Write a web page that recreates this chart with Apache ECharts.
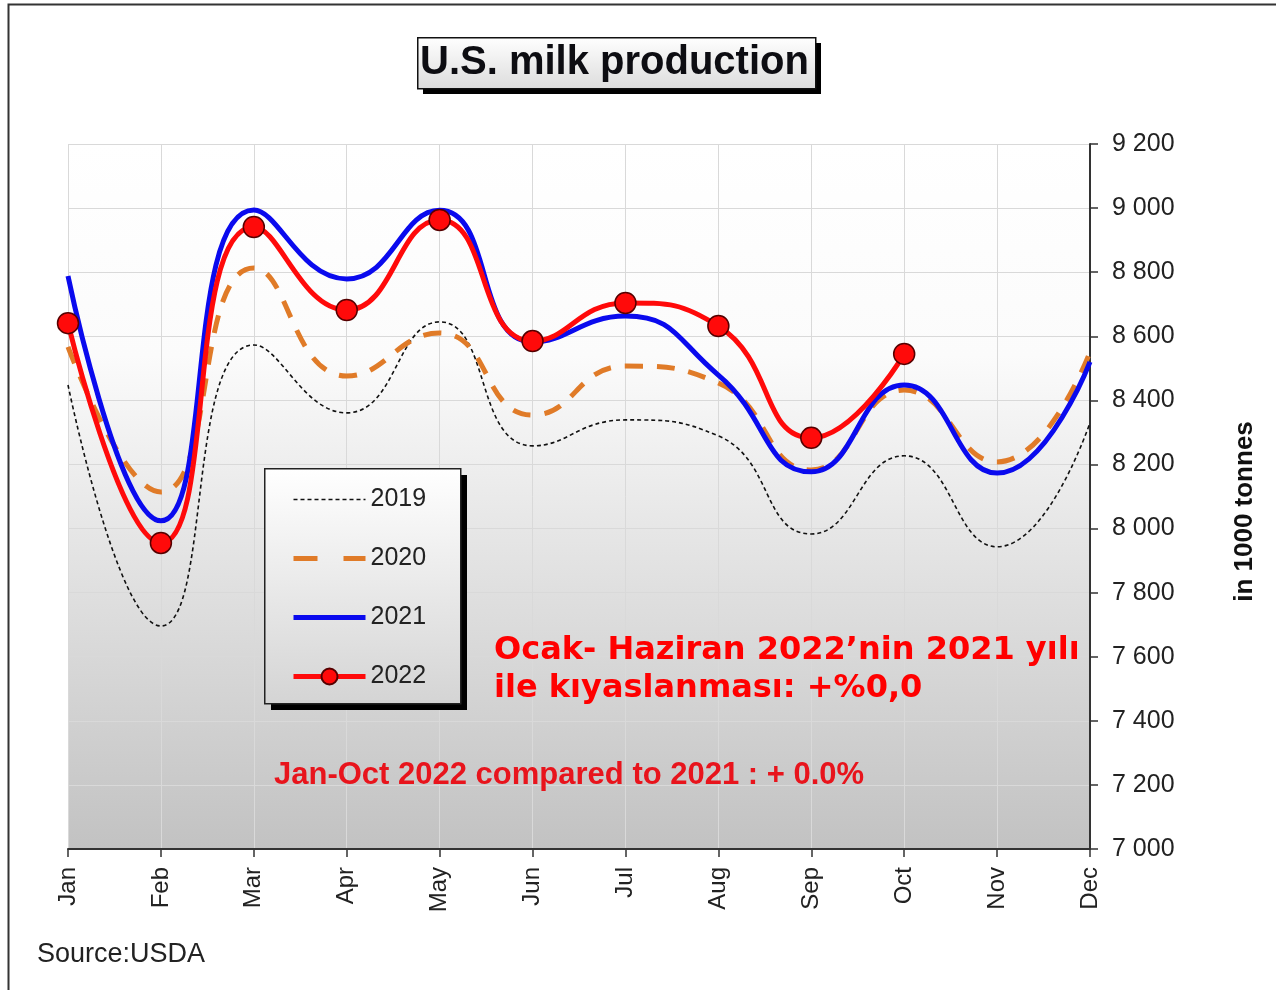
<!DOCTYPE html>
<html>
<head>
<meta charset="utf-8">
<script src="https://cdn.jsdelivr.net/npm/echarts@6/dist/echarts.min.js"></script>
<style>
html,body{margin:0;padding:0;background:#fff;}
#chart{width:1276px;height:990px;}
</style>
</head>
<body>
<div id="chart"></div>
<script>
const months = ['Jan','Feb','Mar','Apr','May','Jun','Jul','Aug','Sep','Oct','Nov','Dec'];
const y2019 = [8448, 7696, 8573, 8361, 8645, 8258, 8339, 8289, 7983, 8227, 7943, 8330];
const y2020 = [8567, 8114, 8813, 8476, 8610, 8354, 8507, 8454, 8183, 8432, 8208, 8551];
const y2021 = [8788, 8024, 8994, 8779, 8993, 8582, 8663, 8479, 8177, 8448, 8173, 8520];
const y2022 = [8641, 7955, 8941, 8682, 8963, 8585, 8704, 8632, 8283, 8545];
const yTicks = {min: 7000, max: 9200, step: 200};

const FONT = '"Liberation Sans", Arial, sans-serif';
const chart = echarts.init(document.getElementById('chart'));

function fmt(v){ const s = String(v); return s.length > 3 ? s.slice(0, s.length-3) + ' ' + s.slice(-3) : s; }

const C19 = '#111111', C20 = '#e07b28', C21 = '#0a0aee', C22 = '#ff0a0a';
const smoothVal = 0.5;
const option = {
  animation: false,
  backgroundColor: '#ffffff',
  title: {
    text: 'U.S. milk production',
    left: 420, top: 41,
    padding: 0, z: 10,
    textStyle: {fontFamily: FONT, fontSize: 40, fontWeight: 'bold', color: '#0d0d12', lineHeight: 44}
  },
  legend: {
    orient: 'vertical',
    left: 264, top: 468, z: 20,
    padding: [19, 32, 18, 27],
    itemWidth: 72, itemHeight: 20, itemGap: 34,
    textStyle: {fontFamily: FONT, fontSize: 25, color: '#222'},
    data: [
      {name: '2019', itemStyle: {opacity: 0}, lineStyle: {color: C19, width: 1.6, type: [4, 3]}},
      {name: '2020', itemStyle: {opacity: 0}, lineStyle: {color: C20, width: 5, type: [24, 26]}},
      {name: '2021', itemStyle: {opacity: 0}, lineStyle: {color: C21, width: 5}},
      {name: '2022', lineStyle: {color: C22, width: 5}}
    ]
  },
  grid: {left: 68, right: 186, top: 144, bottom: 141,
    show: true, borderWidth: 0,
    backgroundColor: new echarts.graphic.LinearGradient(0,0,0,1,[
      {offset:0,color:'#ffffff'},{offset:0.3,color:'#fbfbfb'},{offset:0.55,color:'#e6e6e6'},{offset:1,color:'#c2c2c2'}])
  },
  xAxis: {
    type: 'category', data: months, boundaryGap: false,
    axisLine: {lineStyle: {color: '#333', width: 2}},
    axisTick: {show: true, length: 8, lineStyle: {color: '#333', width: 1.5}},
    axisLabel: {rotate: 90, margin: 18, fontFamily: FONT, fontSize: 24, color: '#222'},
    splitLine: {show: true, lineStyle: {color: '#d9d9d9', width: 1}}
  },
  yAxis: {
    type: 'value', position: 'right',
    min: yTicks.min, max: yTicks.max, interval: yTicks.step,
    name: 'in 1000 tonnes', nameLocation: 'middle', nameRotate: 90, nameGap: 142,
    nameTextStyle: {fontFamily: FONT, fontSize: 26, fontWeight: 'bold', color: '#111', padding: [0, 30, 0, 0]},
    axisLine: {show: true, lineStyle: {color: '#333', width: 2}},
    axisTick: {show: true, length: 8, lineStyle: {color: '#333', width: 1.5}},
    axisLabel: {margin: 22, fontFamily: FONT, fontSize: 25, color: '#222', formatter: fmt},
    splitLine: {show: true, lineStyle: {color: '#d9d9d9', width: 1}}
  },
  series: [
    {name: '2019', type: 'line', data: y2019, smooth: smoothVal, symbol: 'none', z: 2,
     lineStyle: {color: C19, width: 1.6, type: [4, 3]}, itemStyle: {color: C19}},
    {name: '2020', type: 'line', data: y2020, smooth: smoothVal, symbol: 'none', z: 3,
     lineStyle: {color: C20, width: 5, type: [18, 14]}, itemStyle: {color: C20}},
    {name: '2021', type: 'line', data: y2021, smooth: smoothVal, symbol: 'none', z: 4,
     lineStyle: {color: C21, width: 5}, itemStyle: {color: C21}},
    {name: '2022', type: 'line', data: y2022, smooth: smoothVal, symbol: 'circle', symbolSize: 21, z: 5,
     lineStyle: {color: C22, width: 5},
     itemStyle: {color: C22, borderColor: '#500', borderWidth: 1.5}}
  ],
  graphic: [
    {type: 'rect', left: 6, top: 2, shape: {width: 1300, height: 1000}, z: -10, silent: true,
     style: {fill: 'none', stroke: '#333', lineWidth: 2}},
    {type: 'rect', left: 423, top: 43, shape: {width: 398, height: 51}, z: -5, silent: true,
     style: {fill: '#000'}},
    {type: 'rect', left: 417, top: 37, shape: {width: 398, height: 51}, z: -4, silent: true,
     style: {fill: new echarts.graphic.LinearGradient(0,0,0,1,[{offset:0,color:'#ffffff'},{offset:1,color:'#dcdcdc'}]),
       stroke: '#111', lineWidth: 1.5}},
    {type: 'rect', left: 271, top: 475, shape: {width: 196, height: 235}, z: 6, silent: true,
     style: {fill: '#000'}},
    {type: 'rect', left: 264, top: 468, shape: {width: 196, height: 235}, z: 7, silent: true,
     style: {fill: new echarts.graphic.LinearGradient(0,0,0,1,[{offset:0,color:'#ffffff'},{offset:1,color:'#d4d4d4'}]),
       stroke: '#222', lineWidth: 1.5}},
    {type: 'text', left: 494, top: 632, z: 20,
     style: {text: 'Ocak- Haziran 2022\u2019nin 2021 yılı\nile kıyaslanması: +%0,0',
       font: 'bold 32px "DejaVu Sans", Verdana, sans-serif', fill: '#ff0000', lineHeight: 38}},
    {type: 'text', left: 274, top: 760, z: 20,
     style: {text: 'Jan-Oct 2022 compared to 2021 : + 0.0%',
       font: 'bold 31px "Liberation Sans", Arial, sans-serif', fill: '#e8141c'}},
    {type: 'text', left: 37, top: 941, z: 20,
     style: {text: 'Source:USDA', font: '27px "Liberation Sans", Arial, sans-serif', fill: '#222'}}
  ]
};
chart.setOption(option);
</script>
</body>
</html>
